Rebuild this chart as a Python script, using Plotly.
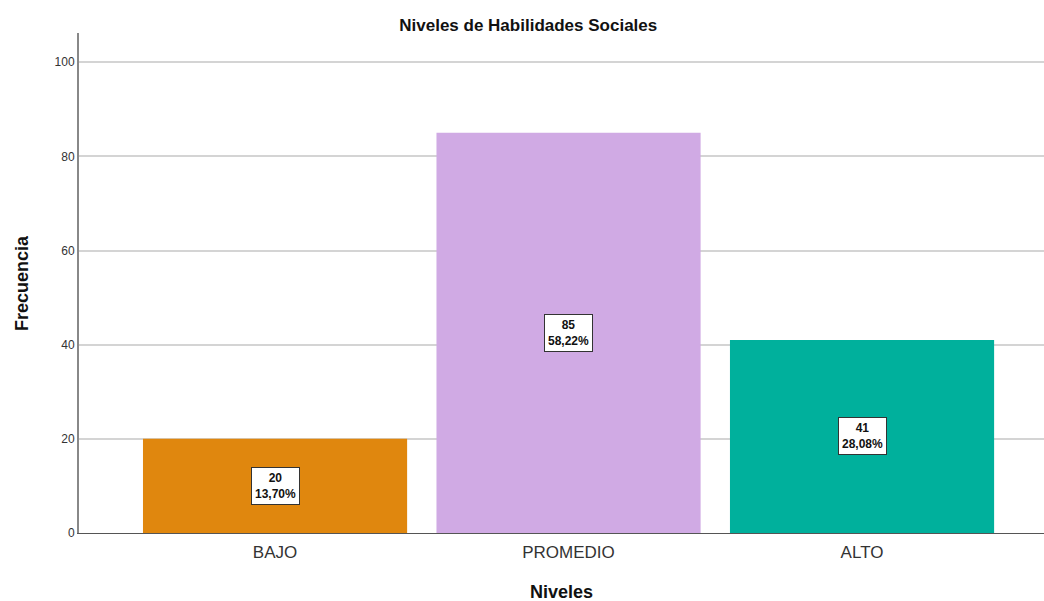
import plotly.graph_objects as go

categories = ["BAJO", "PROMEDIO", "ALTO"]
counts = [20, 85, 41]
percents = ["13,70%", "58,22%", "28,08%"]
colors = ["#E0870E", "#D0AAE4", "#00B09C"]

FONT = "Liberation Sans, Arial, sans-serif"

fig = go.Figure()
fig.add_trace(go.Bar(
    x=categories, y=counts,
    marker=dict(color=colors, line=dict(width=0)),
    hoverinfo="skip",
))

for c, v, p in zip(categories, counts, percents):
    fig.add_annotation(
        x=c, y=v / 2, xref="x", yref="y",
        text=f"<b>{v}</b><br><b>{p}</b>",
        showarrow=False,
        font=dict(family=FONT, size=12, color="#111"),
        bgcolor="white", bordercolor="#333", borderwidth=1, borderpad=3,
        align="center",
    )

# axis titles
fig.add_annotation(
    x=0.5, y=-0.118, xref="paper", yref="paper",
    text="<b>Niveles</b>", showarrow=False,
    font=dict(family=FONT, size=18, color="#111"),
    xanchor="center", yanchor="middle",
)
fig.add_annotation(
    x=0, y=0.5, xref="paper", yref="paper",
    xshift=-57, text="<b>Frecuencia</b>", showarrow=False, textangle=-90,
    font=dict(family=FONT, size=18, color="#111"),
    xanchor="center", yanchor="middle",
)

fig.update_layout(
    width=1044, height=601,
    margin=dict(l=79, r=0, t=33, b=68, autoexpand=False),
    paper_bgcolor="white", plot_bgcolor="white",
    bargap=0.1,
    showlegend=False,
    title=dict(
        text="<b>Niveles de Habilidades Sociales</b>",
        x=0.506, xanchor="center", y=1 - 25 / 601, yanchor="middle",
        font=dict(family=FONT, size=17, color="#111"),
    ),
    font=dict(family=FONT),
)

fig.update_xaxes(
    range=[-0.668, 2.62],
    automargin=False,
    showline=True, linecolor="#555", linewidth=1,
    ticks="", showgrid=False,
    ticklabelstandoff=4,
    tickfont=dict(size=17, color="#333"),
)
fig.update_yaxes(
    range=[0, 106.2],
    automargin=False,
    tickvals=[0, 20, 40, 60, 80, 100],
    showline=True, linecolor="#888", linewidth=2,
    showgrid=True, gridcolor="#D4D4D4", gridwidth=2,
    zeroline=False,
    ticks="", ticklen=0,
    tickfont=dict(size=12, color="#333"),
)

fig.write_html(
    "out.html",
    config={"displayModeBar": False},
    post_script="document.body.style.margin='0';document.body.style.overflow='hidden';",
)
